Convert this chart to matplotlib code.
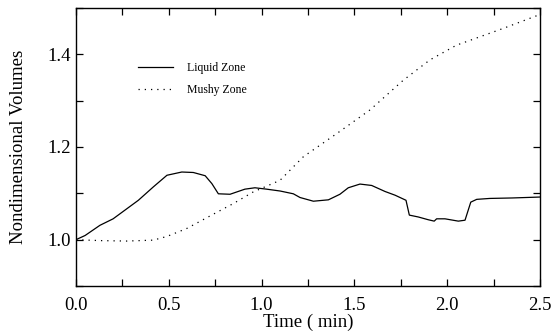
import matplotlib
matplotlib.use("Agg")
import matplotlib.pyplot as plt
from matplotlib.ticker import MultipleLocator, FuncFormatter

plt.rcParams['font.family'] = ['Liberation Serif', 'DejaVu Serif']

liquid_t = [0.0, 0.049, 0.129, 0.2, 0.336, 0.417, 0.49, 0.57, 0.632, 0.696, 0.732, 0.767,
            0.83, 0.91, 0.964, 1.027, 1.10, 1.171, 1.207, 1.279, 1.36, 1.422, 1.467, 1.53,
            1.593, 1.665, 1.719, 1.778, 1.796, 1.844, 1.898, 1.93, 1.943, 1.988, 2.06,
            2.096, 2.127, 2.159, 2.23, 2.35, 2.5]
liquid_v = [1.0, 1.009, 1.031, 1.045, 1.085, 1.114, 1.139, 1.146, 1.145, 1.138, 1.121, 1.099,
            1.098, 1.109, 1.112, 1.109, 1.105, 1.099, 1.091, 1.083, 1.086, 1.098, 1.112, 1.120,
            1.117, 1.104, 1.096, 1.085, 1.053, 1.049, 1.043, 1.040, 1.045, 1.045, 1.040,
            1.042, 1.081, 1.087, 1.089, 1.090, 1.092]

mushy_t = [0.0, 0.129, 0.273, 0.417, 0.49, 0.596, 0.74, 0.848, 0.955, 1.099, 1.225, 1.405,
           1.584, 1.763, 1.907, 2.051, 2.087, 2.302, 2.5]
mushy_v = [1.0, 0.998, 0.997, 0.999, 1.007, 1.024, 1.055, 1.078, 1.103, 1.128, 1.179, 1.229,
           1.28, 1.344, 1.388, 1.42, 1.425, 1.456, 1.486]

x_labels = [0.0, 0.5, 1.0, 1.5, 2.0, 2.5]
y_labels = [1.0, 1.2, 1.4]

fig = plt.figure(figsize=(5.51, 3.36), dpi=100)
ax = fig.add_axes([76/551, 1-286/336, (540-76)/551, (286-8)/336])

ax.plot(liquid_t, liquid_v, color='black', lw=0.9, label='Liquid Zone')
ax.plot(mushy_t, mushy_v, color='black', lw=0.9, linestyle=(0, (1, 4)), label='Mushy Zone')

ax.set_xlim(0, 2.5)
ax.set_ylim(0.9, 1.5)
ax.xaxis.set_major_locator(MultipleLocator(0.25))
ax.yaxis.set_major_locator(MultipleLocator(0.1))

def xfmt(v, pos):
    for l in x_labels:
        if abs(v - l) < 1e-6:
            return f"{l:.1f}"
    return ""

def yfmt(v, pos):
    for l in y_labels:
        if abs(v - l) < 1e-6:
            return f"{l:.1f}"
    return ""

ax.xaxis.set_major_formatter(FuncFormatter(xfmt))
ax.yaxis.set_major_formatter(FuncFormatter(yfmt))
ax.tick_params(direction='in', length=5, width=0.9, top=True, right=True, labelsize=13.5)
ax.tick_params(axis='x', pad=8)
ax.tick_params(axis='y', pad=4)
for s in ax.spines.values():
    s.set_linewidth(1.0)

ax.set_xlabel('Time ( min)', fontsize=13.5, labelpad=0)
ax.set_ylabel('Nondimensional Volumes', fontsize=13.5, labelpad=14)

ax.legend(loc='upper left', bbox_to_anchor=(0.11, 0.845), frameon=False, fontsize=8.5,
          handlelength=3.0, handletextpad=1.2, labelspacing=0.9)

fig.savefig('out.png', dpi=100)
